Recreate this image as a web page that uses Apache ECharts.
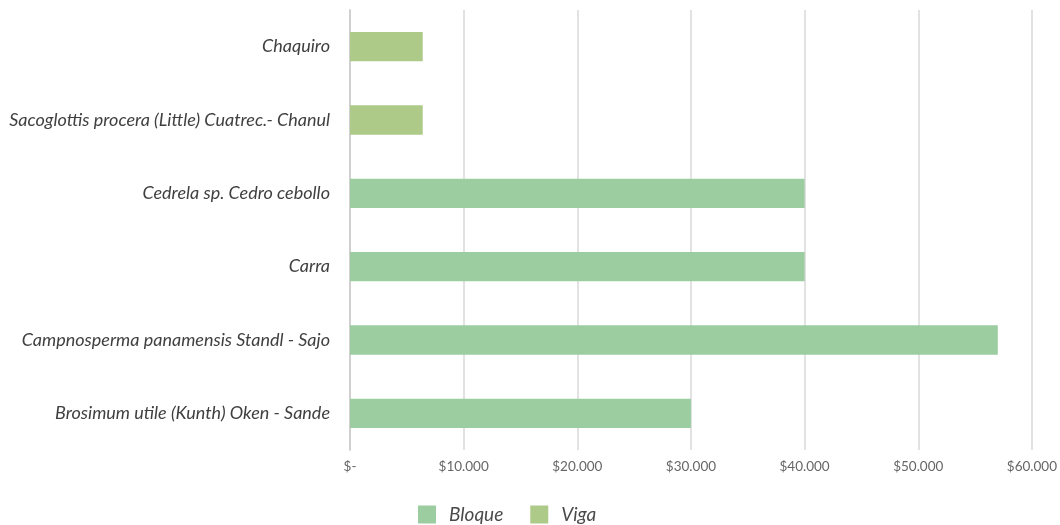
<!DOCTYPE html>
<html>
<head>
<meta charset="utf-8">
<script src="https://cdn.jsdelivr.net/npm/echarts@6/dist/echarts.min.js"></script>
<style>html,body{margin:0;padding:0;background:#fff;}#c{width:1060px;height:525px;}</style>
</head>
<body>
<div id="c"></div>
<script>
const categories = [
  "Brosimum utile (Kunth) Oken - Sande",
  "Campnosperma panamensis Standl - Sajo",
  "Carra",
  "Cedrela sp. Cedro cebollo",
  "Sacoglottis procera (Little) Cuatrec.- Chanul",
  "Chaquiro"
];
const bloque = [30000, 57000, 40000, 40000, null, null];
const viga = [null, null, null, null, 6400, 6400];
const xTicks = [0, 10000, 20000, 30000, 40000, 50000, 60000];

function fmt(v) {
  if (v === 0) return "$-";
  return "$" + String(v).replace(/\B(?=(\d{3})+(?!\d))/g, ".");
}

const chart = echarts.init(document.getElementById('c'));
chart.setOption({
  animation: false,
  grid: { left: 350, right: 28, top: 10, bottom: 75 },
  legend: {
    left: 418, top: 505,
    itemWidth: 18, itemHeight: 18, itemGap: 27,
    icon: 'rect', padding: 0,
    textStyle: { fontFamily: 'Lato', fontStyle: 'italic', fontSize: 19, color: '#4a4a4a', padding: [0, 0, 0, 8], lineHeight: 18 },
    data: ['Bloque', 'Viga']
  },
  xAxis: {
    type: 'value', min: 0, max: 60000, interval: 10000,
    axisLine: { show: false }, axisTick: { show: false },
    splitLine: { lineStyle: { color: '#d9d9d9', width: 1.5 } },
    axisLabel: { formatter: fmt, fontFamily: 'Lato', fontSize: 13.5, color: '#666', margin: 10 }
  },
  yAxis: {
    type: 'category', data: categories,
    axisLine: { lineStyle: { color: '#d0d0d0', width: 2 } },
    axisTick: { show: false },
    axisLabel: { fontFamily: 'Lato', fontStyle: 'italic', fontSize: 18, color: '#404040', margin: 20 }
  },
  series: [
    { name: 'Bloque', type: 'bar', stack: 't', data: bloque, barWidth: '40%',
      itemStyle: { color: '#9bcda0' } },
    { name: 'Viga', type: 'bar', stack: 't', data: viga, barWidth: '40%',
      itemStyle: { color: '#aeca88' } }
  ]
});
</script>
</body>
</html>
